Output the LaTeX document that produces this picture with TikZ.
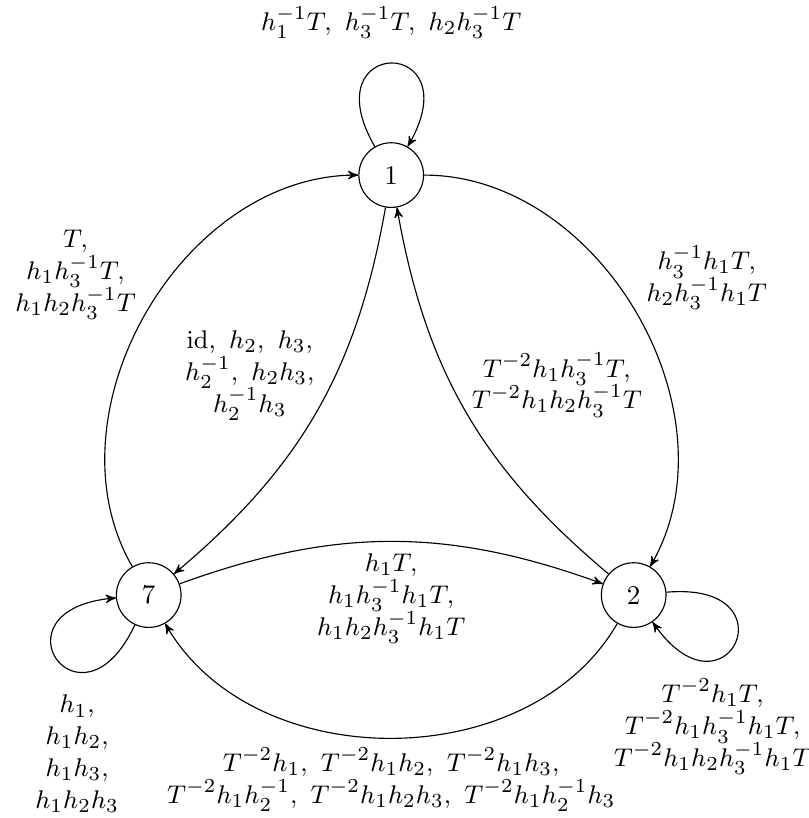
\documentclass[tikz,border=0pt]{standalone}
\usepackage{amsmath}
\usetikzlibrary{arrows, positioning}

\newcommand\lblfont{\fontsize{9.5pt}{11.2pt}\selectfont\lineskiplimit=-20pt\relax}

\tikzset{
  vtx/.style={circle, draw, minimum size=8mm, inner sep=0pt},
  lbl/.style={align=center},
}

\begin{document}
\begin{tikzpicture}[->, >=stealth', font=\lblfont]
  \useasboundingbox (-4.84,-4.49) rectangle (5.16,5.63);

  % states on a triangle
  \node[vtx] (n1) at (90:3.464) {1};
  \node[vtx] (n7) at (210:3.464) {7};
  \node[vtx] (n2) at (330:3.464) {2};

  % self loops
  \path (n1) edge[out=120, in=60, looseness=10]
      node[lbl, above=1.8mm] {$h_1^{-1}T,\ h_3^{-1}T,\ h_2h_3^{-1}T$} (n1);
  \path (n7) edge[out=245, in=185, looseness=10]
      node[lbl, below, xshift=2.5mm, yshift=-3.2mm] {$h_1,$\\ $h_1h_2,$\\ $h_1h_3,$\\ $h_1h_2h_3$} (n7);
  \path (n2) edge[out=5, in=-55, looseness=10]
      node[lbl, below, xshift=-2.8mm, yshift=-3.3mm] {$T^{-2}h_1T,$\\ $T^{-2}h_1h_3^{-1}h_1T,$\\ $T^{-2}h_1h_2h_3^{-1}h_1T$} (n2);

  % outer arcs
  \path (n1) edge[bend left=60]
      node[lbl, above right, yshift=-0.8mm] {$h_3^{-1}h_1T,$\\ $h_2h_3^{-1}h_1T$} (n2);
  \path (n7) edge[bend left=60]
      node[lbl, above left, yshift=-2mm] {$T,$\\ $h_1h_3^{-1}T,$\\ $h_1h_2h_3^{-1}T$} (n1);
  \path (n2) edge[bend left=60]
      node[lbl, below] {$T^{-2}h_1,\ T^{-2}h_1h_2,\ T^{-2}h_1h_3,$\\ $T^{-2}h_1h_2^{-1},\ T^{-2}h_1h_2h_3,\ T^{-2}h_1h_2^{-1}h_3$} (n7);

  % inner arcs
  \path (n1) edge[bend left=20]
      node[lbl, above left, xshift=1mm, yshift=-2.3mm] {$\mathrm{id},\ h_2,\ h_3,$\\ $h_2^{-1},\ h_2h_3,$\\ $h_2^{-1}h_3$} (n7);
  \path (n2) edge[bend left=20]
      node[lbl, above right, xshift=-0.5mm, yshift=-1.9mm] {$T^{-2}h_1h_3^{-1}T,$\\ $T^{-2}h_1h_2h_3^{-1}T$} (n1);
  \path (n7) edge[bend left=20]
      node[lbl, below, yshift=-0.3mm] {$h_1T,$\\ $h_1h_3^{-1}h_1T,$\\ $h_1h_2h_3^{-1}h_1T$} (n2);
\end{tikzpicture}
\end{document}
